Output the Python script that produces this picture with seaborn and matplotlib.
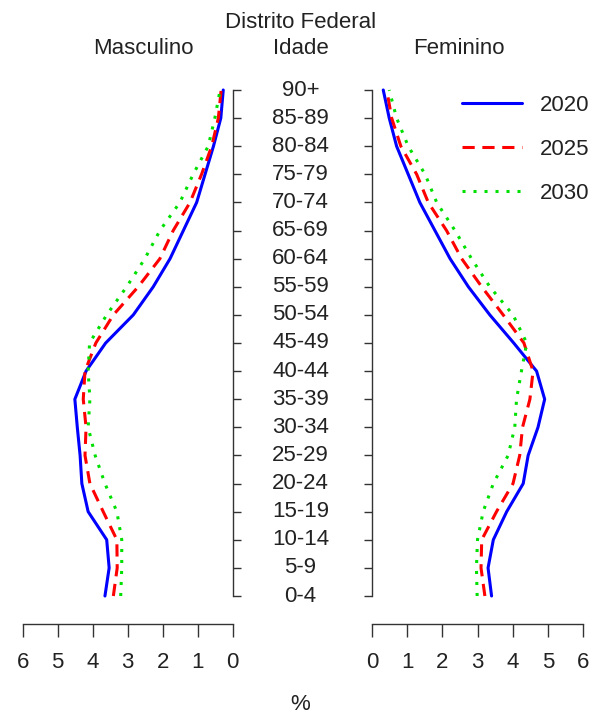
import pandas as pd
import seaborn as sns
import matplotlib.pyplot as plt
from matplotlib.lines import Line2D
from matplotlib.transforms import blended_transform_factory

idades = ['0-4', '5-9', '10-14', '15-19', '20-24', '25-29', '30-34', '35-39',
          '40-44', '45-49', '50-54', '55-59', '60-64', '65-69', '70-74',
          '75-79', '80-84', '85-89', '90+']
anos = [2020, 2025, 2030]

# % da populacao, de 0-4 ate 90+
masc_2020 = [3.65, 3.53, 3.60, 4.13, 4.31, 4.36, 4.44, 4.51, 4.19, 3.63,
             2.84, 2.27, 1.79, 1.41, 1.03, 0.79, 0.55, 0.34, 0.27]
masc_2025 = [3.41, 3.30, 3.31, 3.70, 4.08, 4.22, 4.19, 4.27, 4.22, 3.91,
             3.41, 2.70, 2.08, 1.70, 1.22, 0.89, 0.60, 0.41, 0.33]
masc_2030 = [3.20, 3.17, 3.17, 3.31, 3.65, 3.93, 4.13, 4.08, 4.13, 4.09,
             3.60, 3.03, 2.51, 2.08, 1.51, 1.13, 0.70, 0.51, 0.36]
fem_2020 = [3.40, 3.30, 3.45, 3.83, 4.30, 4.44, 4.72, 4.91, 4.68, 4.03,
            3.35, 2.74, 2.22, 1.79, 1.36, 1.03, 0.70, 0.49, 0.32]
fem_2025 = [3.21, 3.10, 3.12, 3.54, 4.01, 4.20, 4.28, 4.49, 4.58, 4.32,
            3.73, 3.12, 2.55, 2.12, 1.60, 1.27, 0.82, 0.56, 0.42]
fem_2030 = [2.99, 2.97, 3.00, 3.16, 3.45, 3.87, 4.06, 4.11, 4.25, 4.40,
            4.01, 3.35, 2.83, 2.36, 1.84, 1.51, 1.03, 0.70, 0.49]

dados = {('M', 2020): masc_2020, ('M', 2025): masc_2025, ('M', 2030): masc_2030,
         ('F', 2020): fem_2020, ('F', 2025): fem_2025, ('F', 2030): fem_2030}
linhas = []
for (sexo, ano), vals in dados.items():
    for i, v in enumerate(vals):
        linhas.append({'sexo': sexo, 'ano': ano, 'pos': i, 'pct': v})
df = pd.DataFrame(linhas)

cores = {2020: '#0000ff', 2025: '#ff0000', 2030: '#00e000'}
tracos = {2020: '', 2025: (4, 2.5), 2030: (1, 2.6)}

sns.set_theme(style='white')
plt.rcParams['font.family'] = ['Liberation Sans', 'DejaVu Sans']
txt = '#222222'
fs = 16

W, H = 592, 713
fig = plt.figure(figsize=(W / 100, H / 100), dpi=100)


def fx(px):
    return px / W


def fy(py):
    return 1 - py / H


ax_m = fig.add_axes([fx(22.7), fy(596), fx(232.7) - fx(22.7), fy(90) - fy(596)])
ax_f = fig.add_axes([fx(372), fy(596), fx(583) - fx(372), fy(90) - fy(596)])

for ax, sexo in [(ax_m, 'M'), (ax_f, 'F')]:
    sns.lineplot(data=df[df.sexo == sexo], x='pct', y='pos', hue='ano', style='ano',
                 palette=cores, dashes=tracos, orient='y', sort=False,
                 estimator=None, linewidth=2.2, legend=False, ax=ax)
    for ln in ax.lines:
        ln.set_clip_on(False)
    ax.set_ylim(0, 18)
    ax.set_xticks(range(7))
    ax.set_yticks(range(19))
    ax.set_yticklabels([])
    ax.set_xlabel('')
    ax.set_ylabel('')
    ax.spines['top'].set_visible(False)
    ax.spines['bottom'].set_position(('outward', 20))
    ax.tick_params(axis='x', bottom=True, direction='out', length=9.4, width=1,
                   pad=11, labelsize=fs, labelcolor=txt, color='#333333')
    for s in ax.spines.values():
        s.set_color('#333333')
        s.set_linewidth(1)

ax_m.set_xlim(6, 0)
ax_m.spines['left'].set_visible(False)
ax_m.yaxis.tick_right()
ax_m.tick_params(axis='y', right=True, left=False, direction='out', length=5.8,
                 width=1, color='#333333')

ax_f.set_xlim(0, 6)
ax_f.spines['right'].set_visible(False)
ax_f.tick_params(axis='y', left=True, right=False, direction='out', length=5.8,
                 width=1, color='#333333')

trans = blended_transform_factory(fig.transFigure, ax_m.transData)
for i, lab in enumerate(idades):
    ax_m.text(fx(300.5), i, lab, transform=trans, ha='center', va='center',
              fontsize=fs, color=txt, clip_on=False)

fig.text(fx(300.5), fy(23), 'Distrito Federal', ha='center', va='center', fontsize=fs, color=txt)
fig.text(fx(143), fy(49), 'Masculino', ha='center', va='center', fontsize=fs, color=txt)
fig.text(fx(300.7), fy(49), 'Idade', ha='center', va='center', fontsize=fs, color=txt)
fig.text(fx(459), fy(49), 'Feminino', ha='center', va='center', fontsize=fs, color=txt)
fig.text(fx(300.5), fy(704), '%', ha='center', va='center', fontsize=fs, color=txt)

handles = [Line2D([], [], color=cores[a], linewidth=2.2,
                  dashes=tracos[a] if tracos[a] else (None, None)) for a in anos]
leg = ax_f.legend(handles, [str(a) for a in anos], loc='upper left',
                  bbox_to_anchor=(fx(462), fy(95)), bbox_transform=fig.transFigure,
                  frameon=False, fontsize=fs, handlelength=2.7, handletextpad=0.8,
                  labelspacing=1.04, borderpad=0, borderaxespad=0)
for t in leg.get_texts():
    t.set_color(txt)

fig.savefig('out.png', dpi=100)
